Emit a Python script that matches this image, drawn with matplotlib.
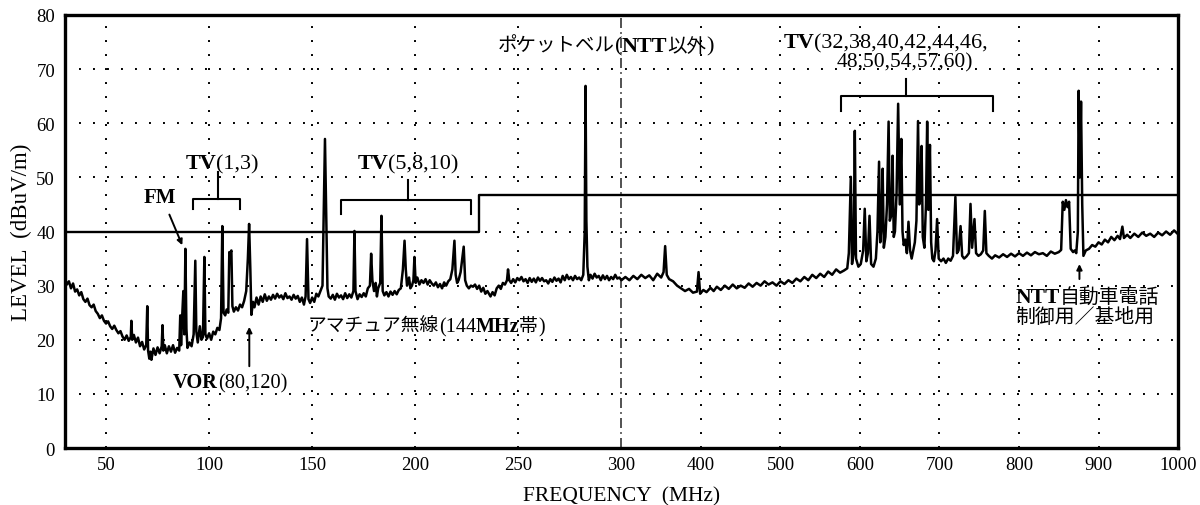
import numpy as np
import matplotlib
matplotlib.use('Agg')
import matplotlib.pyplot as plt
from matplotlib.offsetbox import TextArea, HPacker, AnnotationBbox

# ---------------- data ----------------
freq_low = [30, 31, 32, 33, 34, 35, 36, 37, 38, 39, 40, 41, 42, 43, 44, 45, 46, 47, 48, 49,
            50, 51, 52, 53, 54, 55, 56, 57, 58, 59, 60, 61, 62, 62.3, 62.7, 63.5, 64.5, 65.5, 66.5, 67.5,
            68.5, 69.5, 70.0, 70.4, 71, 71.5, 72, 73, 74, 75, 76, 77, 77.4, 77.8, 78.5, 79.5, 80.5, 81.5, 82.5, 83.5,
            84.5, 85.5, 86.0, 86.4, 87.0, 87.5, 88.0, 88.5, 89.0, 89.5, 90.5, 91.5, 92.5, 93.3, 93.8, 94.5, 95.5, 96.3, 97.0, 97.7,
            98.2, 99, 100, 101, 102, 103, 104, 105, 105.8, 106.4, 107, 107.8, 108.5, 109.3, 109.8, 110.3, 110.8, 111.3, 112, 113,
            114, 115, 116, 117, 118, 118.8, 119.4, 120.0, 120.5, 121.3, 122, 123, 124, 125, 126, 127, 128, 129, 130, 131,
            132, 133, 134, 135, 136, 137, 138, 139, 140, 141, 142, 143, 144, 145, 146, 146.8, 147.5, 148.2, 149, 150,
            151, 152, 153, 154, 155, 155.6, 156.2, 156.8, 157.4, 158, 159, 160, 161, 162, 163, 164, 165, 166, 167, 168,
            169, 170, 170.5, 171, 172, 173, 174, 175, 176, 177, 178, 178.6, 179.2, 180, 180.8, 181.4, 182, 183, 183.6, 184.2,
            185, 186, 187, 188, 189, 190, 191, 192, 193, 194, 194.8, 195.4, 196, 197, 197.6, 198.4, 199.1, 199.6, 200.2, 201,
            202, 203, 204, 205, 206, 207, 208, 209, 210, 211, 212, 213, 214, 215, 216, 217, 218, 219, 219.6, 220.3,
            221, 222, 223.5, 224.2, 225, 226, 227, 228, 229, 230, 231, 232, 233, 234, 235, 236.5, 237.5, 238.5, 239.5, 240.5,
            241.5, 242.5, 243.5, 244.5, 245, 245.6, 246.5, 247.5, 248.5, 249.5, 250.5, 251.5, 252.5, 253.5, 254.5, 255.5, 256.5, 257.5, 258.5, 259.5,
            260.5, 261.5, 262.5, 263.5, 264.5, 265.5, 266.5, 267.5, 268.5, 269.5, 270.5, 271.5, 272.5, 273.5, 274.5, 275.5, 276.5, 277.5, 278.5, 279.5,
            280.5, 281.5, 282.2, 282.6, 283.0, 283.5, 284.2, 285, 286, 287, 288, 289, 290, 291, 292, 293, 294, 295, 296, 297,
            298, 299, 300]
level_low = [31.5, 30.2, 30.8, 29.5, 30.4, 28.9, 29.3, 28.2, 28.8, 27.5, 27.0, 27.6, 26.4, 26.0, 26.5, 25.3, 24.8, 24.0, 24.5, 23.5,
             23.0, 23.4, 22.5, 22.0, 22.6, 21.8, 21.2, 21.6, 20.6, 20.0, 20.8, 19.8, 20.5, 23.5, 20.0, 20.9, 19.5, 20.4, 18.8, 19.6,
             18.2, 19.0, 26.2, 18.0, 16.5, 17.8, 16.3, 18.4, 17.2, 18.6, 17.5, 18.8, 22.7, 18.0, 19.0, 17.5, 18.8, 17.8, 19.0, 17.6,
             18.5, 18.0, 24.5, 19.0, 24.8, 29.0, 21.0, 36.8, 22.0, 18.5, 19.5, 18.8, 21.0, 34.6, 21.5, 19.5, 22.5, 20.0, 20.5, 35.3,
             21.0, 20.2, 21.2, 20.0, 21.5, 21.0, 22.2, 21.8, 24.0, 41.0, 25.0, 24.5, 25.6, 25.0, 36.2, 36.0, 36.5, 26.2, 25.2, 26.0,
             25.4, 26.5, 26.0, 27.2, 29.0, 35.0, 41.4, 33.0, 24.6, 27.0, 26.0, 27.8, 26.5, 28.0, 27.0, 28.4, 27.2, 28.0, 27.4, 28.3,
             27.6, 28.5, 27.8, 28.2, 27.5, 28.6, 27.7, 28.0, 27.4, 28.3, 27.6, 28.1, 27.0, 27.8, 26.5, 28.0, 38.6, 27.5, 26.8, 27.8,
             27.0, 28.5, 28.0, 29.0, 30.0, 43.8, 57.1, 43.0, 29.5, 28.0, 27.6, 28.3, 27.4, 28.5, 27.8, 28.2, 27.5, 28.6, 27.7, 28.4,
             27.8, 29.0, 40.1, 29.0, 27.5, 28.4, 27.9, 28.6, 28.0, 29.5, 30.0, 35.9, 31.0, 29.0, 30.5, 28.0, 29.5, 30.5, 42.9, 29.0,
             28.2, 28.8, 28.0, 28.9, 28.3, 29.0, 28.4, 29.2, 29.5, 33.0, 38.3, 33.0, 30.0, 31.5, 29.5, 30.0, 31.0, 35.3, 30.5, 31.5,
             30.2, 31.0, 30.5, 31.2, 30.2, 31.0, 30.4, 30.0, 30.6, 29.7, 30.3, 29.5, 30.6, 30.0, 30.8, 31.2, 33.0, 38.3, 32.0, 30.5,
             31.0, 32.5, 37.2, 31.0, 30.0, 29.5, 30.0, 29.8, 30.2, 29.4, 30.0, 28.9, 29.6, 28.5, 29.0, 28.0, 28.8, 28.2, 29.5, 30.0,
             29.4, 30.5, 30.2, 31.0, 33.0, 31.0, 30.5, 31.2, 30.6, 31.4, 31.0, 31.6, 30.8, 31.2, 30.5, 31.4, 30.7, 31.3, 30.6, 31.5,
             30.9, 31.4, 30.8, 31.0, 30.4, 31.2, 30.7, 31.5, 30.9, 31.3, 30.6, 31.8, 31.0, 32.0, 31.2, 31.6, 31.0, 31.8, 31.2, 31.5,
             31.0, 32.0, 40.0, 66.9, 42.0, 33.5, 31.0, 32.0, 31.3, 32.2, 31.5, 31.8, 31.0, 31.9, 31.2, 31.8, 31.0, 31.6, 31.2, 32.0,
             31.3, 31.5, 31.0]

freq_high = [305, 310, 315, 320, 325, 330, 335, 340, 345, 350, 353, 355, 357, 360, 365, 370, 375, 380, 385, 390,
             395, 397, 399, 403, 407, 412, 416, 420, 425, 430, 435, 440, 445, 450, 455, 460, 465, 470, 475, 480,
             485, 490, 495, 500, 505, 510, 515, 520, 525, 530, 535, 540, 545, 550, 555, 560, 565, 570, 575, 580,
             584, 586, 588.5, 590, 592, 593.5, 595, 598, 601, 604, 606, 608, 610, 612, 614, 617, 620, 622, 624, 625.5,
             627, 628.5, 630, 632, 634, 636, 637.5, 639.5, 641, 642.5, 644, 646, 648, 650, 652, 653.5, 655, 657, 659, 661,
             663, 665, 667, 669, 671, 673, 674.5, 676, 677.5, 679, 681, 683, 684.5, 686, 688, 689.5, 691, 693, 695, 697,
             699, 702, 705, 708, 711, 714, 717, 720, 722, 724, 726.5, 728.5, 731, 734, 737, 739, 741, 744, 746, 749,
             752, 755, 757, 759, 762, 766, 770, 775, 780, 785, 790, 795, 800, 805, 810, 815, 820, 825, 830, 835,
             840, 845, 850, 853, 855, 857, 859, 861, 863, 865, 868, 870, 872, 874, 875, 876.5, 878, 879.5, 881, 884,
             888, 892, 896, 900, 904, 908, 912, 916, 920, 924, 927, 930, 932, 936, 940, 945, 950, 955, 960, 965,
             970, 975, 980, 985, 990, 995, 1000]
level_high = [31.6, 31.0, 31.8, 31.2, 32.0, 31.4, 31.9, 31.0, 32.2, 31.5, 32.5, 37.3, 32.0, 31.2, 30.8, 30.0, 29.5, 29.0, 29.4, 28.7,
              28.9, 32.5, 28.5, 29.2, 28.8, 29.6, 29.0, 29.8, 29.2, 30.0, 29.4, 30.2, 29.5, 30.0, 29.6, 30.4, 29.8, 30.5, 30.0, 30.8,
              30.2, 30.6, 30.0, 30.8, 30.3, 31.0, 30.5, 31.3, 30.8, 31.6, 31.0, 32.0, 31.4, 32.2, 31.6, 32.6, 32.0, 33.0, 32.4, 32.8,
              33.2, 36.0, 50.1, 34.0, 36.0, 58.6, 35.0, 33.5, 34.0, 36.5, 44.2, 34.5, 36.0, 42.9, 34.0, 33.5, 35.0, 40.0, 52.9, 38.0,
              41.0, 51.6, 37.0, 39.0, 45.0, 60.3, 42.0, 43.0, 54.0, 39.0, 40.0, 47.0, 63.6, 45.0, 57.1, 40.0, 37.5, 38.5, 36.0, 41.8,
              36.5, 35.0, 36.5, 38.0, 42.0, 60.4, 45.0, 46.0, 55.8, 39.0, 37.0, 45.0, 60.3, 44.0, 56.0, 38.0, 35.0, 34.5, 36.5, 42.3,
              35.0, 34.5, 35.0, 34.2, 35.0, 34.6, 35.5, 46.4, 36.0, 36.5, 41.0, 35.5, 35.0, 35.4, 36.0, 45.1, 37.0, 42.3, 36.0, 35.5,
              35.8, 36.5, 43.8, 36.0, 35.5, 35.0, 35.6, 35.2, 35.8, 35.3, 35.9, 35.4, 36.0, 35.5, 36.1, 35.6, 36.2, 35.8, 36.0, 35.5,
              36.3, 35.9, 36.2, 36.6, 45.5, 44.0, 45.8, 44.5, 45.5, 36.8, 36.2, 36.5, 36.0, 40.0, 66.0, 50.0, 64.0, 45.0, 35.5, 36.5,
              36.8, 37.5, 37.2, 38.0, 37.6, 38.5, 38.0, 39.0, 38.4, 39.2, 38.6, 40.9, 38.8, 39.4, 38.8, 39.6, 39.0, 39.8, 39.2, 39.6,
              39.0, 39.8, 39.3, 40.0, 39.4, 40.2, 39.5]

limit_freq = [30, 231, 231, 1000]
limit_level = [40, 40, 46.8, 46.8]

x_ticks = [50, 100, 150, 200, 250, 300, 400, 500, 600, 700, 800, 900, 1000]
y_ticks = [0, 10, 20, 30, 40, 50, 60, 70, 80]

# ---------------- scale: 30-300 linear on left half, 300-1000 on right half ----------------
def fwd(f):
    f = np.asarray(f, dtype=float)
    return np.where(f <= 300, (f - 30) / 270.0, 1 + (f - 300) / 700.0)

def inv(u):
    u = np.asarray(u, dtype=float)
    return np.where(u <= 1, 30 + u * 270.0, 300 + (u - 1) * 700.0)

FAM = ['Liberation Serif', 'Noto Sans CJK JP', 'DejaVu Sans']
plt.rcParams['font.family'] = FAM

fig = plt.figure(figsize=(12, 5.06), dpi=100)
ax = fig.add_axes([0.054, 0.1126, 0.9277, 0.8558])
ax.set_xscale('function', functions=(fwd, inv))
ax.set_xlim(30, 1000)
ax.set_ylim(0, 80)

freq = freq_low + freq_high
level = level_low + level_high
ax.plot(freq, level, color='black', lw=1.8, zorder=3)
ax.plot(limit_freq, limit_level, color='black', lw=1.7, zorder=3)

ax.set_xticks(x_ticks)
ax.set_xticklabels([str(t) for t in x_ticks])
ax.set_yticks(y_ticks)
ax.tick_params(length=0, labelsize=13.5, pad=6)
ax.tick_params(axis='y', pad=7)

for t in [50, 100, 150, 200, 250, 400, 500, 600, 700, 800, 900]:
    ax.axvline(t, color='black', lw=1.4, ls=(0, (1, 6.2)), zorder=1)
for t in [10, 20, 30, 40, 50, 60, 70]:
    ax.axhline(t, color='black', lw=1.4, ls=(0, (1, 6.2)), zorder=1)
ax.axvline(300, color='#333333', lw=1.2, ls=(0, (6, 2.5, 1, 2.5)), zorder=1)

for s in ax.spines.values():
    s.set_linewidth(2.4)

ax.set_ylabel('LEVEL  (dBuV/m)', fontsize=16.5, labelpad=3)
ax.set_xlabel('FREQUENCY  (MHz)', fontsize=15.5, labelpad=9)

LAT = 16
JP = 14

def runs(x, y, parts):
    kids = [TextArea(s, textprops=dict(fontsize=z, fontweight=w, family=FAM)) for s, w, z in parts]
    box = HPacker(children=kids, align='baseline', pad=0, sep=0)
    ab = AnnotationBbox(box, (x, y), xycoords='data', box_alignment=(0, 0.5),
                        frameon=False, pad=0, zorder=5, annotation_clip=False)
    ax.add_artist(ab)
    return ab

def bracket(f0, f1, fc, ylev, yend, ytop):
    ax.plot([f0, f0, f1, f1], [yend, ylev, ylev, yend], color='black', lw=1.5, zorder=4)
    ax.plot([fc, fc], [ylev, ytop], color='black', lw=1.5, zorder=4)

# FM
ax.text(76.2, 46.4, 'FM', fontsize=15, fontweight='bold', ha='center', va='center')
ax.annotate('', xy=(87.5, 37.0), xytext=(80.2, 43.6),
            arrowprops=dict(arrowstyle='-|>', lw=1.4, color='black', mutation_scale=8))

# TV(1,3)
runs(88.5, 52.6, [('TV', 'bold', LAT), ('(1,3)', 'normal', LAT)])
bracket(92.3, 115.2, 104.5, 46.0, 44.2, 51.0)

# TV(5,8,10)
runs(172.0, 52.6, [('TV', 'bold', LAT), ('(5,8,10)', 'normal', LAT)])
bracket(164.2, 227.2, 196.6, 45.8, 43.2, 49.6)

# Pocket bell
runs(239.9, 74.3, [('ポケットベル', 'normal', JP), ('(', 'normal', LAT), ('NTT', 'bold', LAT),
                   ('以外', 'normal', JP), (')', 'normal', LAT)])

# TV UHF
runs(503.8, 75.0, [('TV', 'bold', LAT), ('(32,38,40,42,44,46,', 'normal', LAT)])
runs(570.4, 71.3, [('48,50,54,57,60)', 'normal', 15.5)])
bracket(576.7, 767.9, 658.5, 65.0, 62.3, 68.2)

# amateur
runs(147.7, 22.5, [('アマチュア無線', 'normal', 13.5), ('(144', 'normal', 14.5), ('MHz', 'bold', 14.5),
                   ('帯', 'normal', 13.5), (')', 'normal', 14.5)])

# VOR
runs(82.6, 12.2, [('VOR', 'bold', 14.7), ('(80,120)', 'normal', 14.7)])
ax.annotate('', xy=(119.5, 22.9), xytext=(119.5, 14.6),
            arrowprops=dict(arrowstyle='-|>', lw=1.4, color='black', mutation_scale=8))

# NTT car phone
runs(795.6, 27.9, [('NTT', 'bold', 15.5), ('自動車電話', 'normal', 14.3)])
runs(795.6, 24.2, [('制御用／基地用', 'normal', 14.3)])
ax.annotate('', xy=(876, 34.5), xytext=(876, 30.7),
            arrowprops=dict(arrowstyle='-|>', lw=1.4, color='black', mutation_scale=8))

fig.savefig('out.png', dpi=100)
